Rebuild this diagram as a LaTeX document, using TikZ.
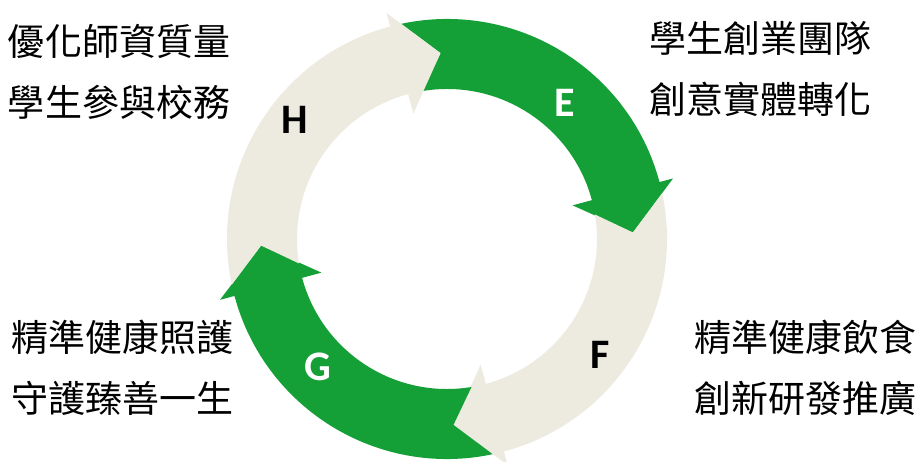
\documentclass[tikz,border=0pt]{standalone}
\usepackage{fontspec}
\usepackage{tikz}
\usepackage{color}
\newfontfamily\cjk{Noto Sans CJK TC}
\newfontfamily\lbl{Carlito}
\definecolor{ringgreen}{RGB}{20,160,55}
\definecolor{ringbeige}{RGB}{237,235,224}
\tikzset{
  letter/.style={font=\lbl\bfseries\fontsize{42}{42}\selectfont, inner sep=0pt},
  goal/.style={font=\cjk\fontsize{37}{61}\selectfont, align=center, inner sep=0pt}
}

\begin{document}
\begin{tikzpicture}[x=1pt, y=1pt]
				\useasboundingbox (0,0) rectangle (920,461);
				\fill[white] (0,0) rectangle (920,461);
				\coordinate (ctr) at (447,222);
				\begin{scope}[shift={(ctr)}]
					\fill[ringgreen] (102:220) arc[start angle=102, end angle=15, radius=220] -- (15:234) -- (2:186) -- (15:130) -- (15:150) arc[start angle=15, end angle=99.4, radius=150] -- (92:186) -- cycle;
					\fill[ringbeige] (12:220) arc[start angle=12, end angle=-75, radius=220] -- (-75:234) -- (-88:186) -- (-75:130) -- (-75:150) arc[start angle=-75, end angle=9.4, radius=150] -- (2:186) -- cycle;
					\fill[ringgreen] (282:220) arc[start angle=282, end angle=195, radius=220] -- (195:235) -- (182:186) -- (195:130) -- (195:150) arc[start angle=195, end angle=279.4, radius=150] -- (272:186) -- cycle;
					\fill[ringbeige] (192:220) arc[start angle=192, end angle=105, radius=220] -- (105:234) -- (92:186) -- (105:130) -- (105:150) arc[start angle=105, end angle=189.4, radius=150] -- (182:186) -- cycle;
				\end{scope}
				\node[letter, text=white] (E) at (565,358) {E};
				\node[letter, text=black] (F) at (600,106) {F};
				\node[letter, text=white] (G) at (318,94) {G};
				\node[letter, text=black] (H) at (295,341) {H};
				\node[goal] (teacher) at (119,389.5) {優化師資質量\\學生參與校務};
				\node[goal] (startup) at (760,392.5) {學生創業團隊\\創意實體轉化};
				\node[goal] (care) at (122,93.5) {精準健康照護\\守護臻善一生};
				\node[goal] (diet) at (805,93.5) {精準健康飲食\\創新研發推廣};
			\end{tikzpicture}
\end{document}
